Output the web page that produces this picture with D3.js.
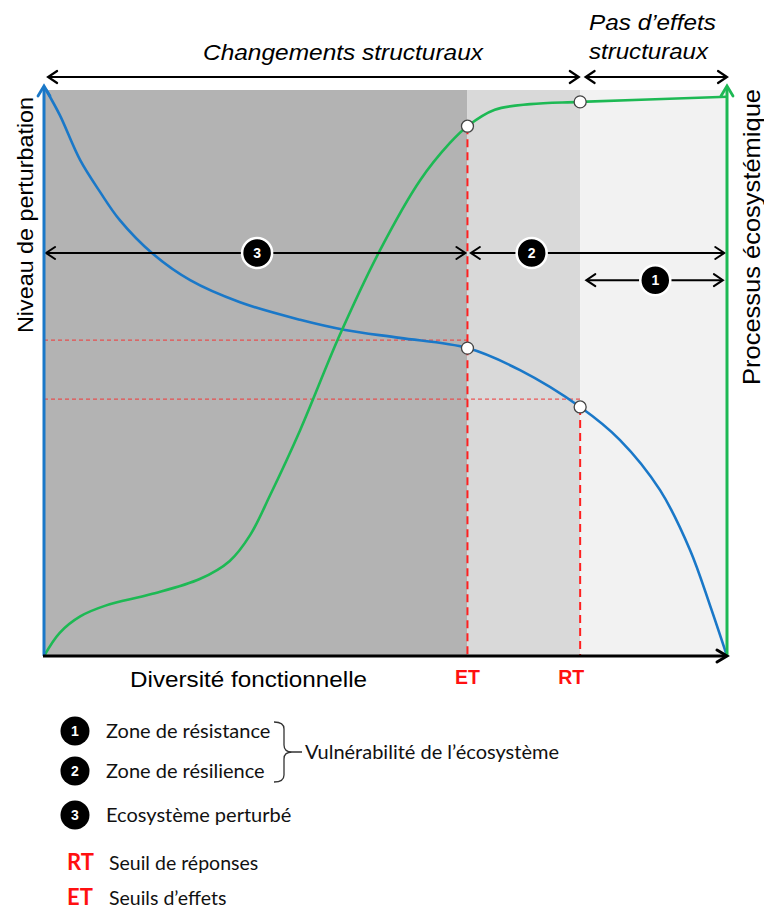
<!DOCTYPE html>
<html><head><meta charset="utf-8">
<script src="https://cdn.jsdelivr.net/npm/d3@7"></script>
<style>
html,body{margin:0;padding:0;background:#fff;}
svg{display:block;}
</style></head>
<body>
<script>
// ---- data ----
const zoneBounds = [0, 62, 78.5, 100];
const zoneColors = ["#b3b3b3", "#d9d9d9", "#f2f2f2"];
const blueX = [0.3, 2.3, 5.3, 8.2, 11.1, 15.8, 21.4, 28.7, 37.5, 44.1, 52.1, 62, 69.7, 78.5, 84.3, 90.2, 94.6, 97.5, 100];
const blueY = [100, 95.6, 87.6, 82.0, 77.0, 71.2, 66.4, 62.5, 59.4, 57.6, 56.2, 54.4, 50.5, 44.0, 38.2, 29.3, 18.7, 9, 0];
const greenX = [0, 2.3, 5.3, 9, 15.6, 22.8, 27.2, 30.2, 33.1, 37.5, 43.3, 49.2, 55.1, 59.4, 62, 66.0, 71.2, 78.5, 100];
const greenY = [0, 4.1, 7.0, 8.9, 10.9, 13.6, 16.8, 21.4, 28.4, 39.9, 56.7, 71.7, 84.1, 90.6, 93.6, 96.5, 97.5, 97.9, 98.8];
const thresholdNames = ["ET", "RT"];
const thresholdX = [62, 78.5];
const thresholdBlue = [54.4, 44.0];
const thresholdGreen = [93.6, 97.9];
const refLineY = [55.8, 45.4];
const zoneArrows = [ // [x0, x1, y, label x, label]
  [0.3, 61.7, 71.2, 31.2, "3"],
  [62.5, 99.6, 71.2, 71.4, "2"],
  [79.4, 99.4, 66.4, 89.5, "1"]
];
const topArrows = [[0.6, 78.3], [79.3, 100]];
const legendNums = ["1", "2", "3"];
const legendTexts = ["Zone de résistance", "Zone de résilience", "Ecosystème perturbé"];
const thresholdLegend = [["RT", "Seuil de réponses"], ["ET", "Seuils d\u2019effets"]];

// ---- layout ----
const W = 764, H = 909;
const x = d3.scaleLinear().domain([0, 100]).range([44, 727]);
const y = d3.scaleLinear().domain([0, 100]).range([656, 90]);

const svg = d3.select("body").append("svg").attr("width", W).attr("height", H);
const ARIAL = "'Liberation Sans', Arial, sans-serif";
const CAL = "Lato, 'Open Sans', sans-serif";

// zones
svg.selectAll("rect.zone").data(zoneColors).enter().append("rect")
  .attr("x", (d, i) => x(zoneBounds[i]))
  .attr("width", (d, i) => x(zoneBounds[i + 1]) - x(zoneBounds[i]))
  .attr("y", y(100)).attr("height", y(0) - y(100))
  .attr("fill", d => d);

// red reference dashed lines (horizontal)
refLineY.forEach((v, i) => {
  svg.append("line").attr("x1", x(0)).attr("x2", x(thresholdX[i]))
    .attr("y1", y(v)).attr("y2", y(v))
    .attr("stroke", "#f04040").attr("stroke-width", 1.2).attr("stroke-dasharray", "4,3").attr("opacity", 0.85);
});
// vertical thresholds
svg.append("line").attr("x1", x(thresholdX[0])).attr("x2", x(thresholdX[0]))
  .attr("y1", y(thresholdGreen[0])).attr("y2", y(0))
  .attr("stroke", "#ff2020").attr("stroke-width", 2).attr("stroke-dasharray", "8,5");
svg.append("line").attr("x1", x(thresholdX[1])).attr("x2", x(thresholdX[1]))
  .attr("y1", y(thresholdBlue[1])).attr("y2", y(0))
  .attr("stroke", "#ff2020").attr("stroke-width", 2).attr("stroke-dasharray", "8,5");

function chevron(g, tx, ty, dir, color, len, half, sw) {
  const c = Math.cos(dir), s = Math.sin(dir);
  const p1 = [tx - len * c - half * s, ty - len * s + half * c];
  const p2 = [tx - len * c + half * s, ty - len * s - half * c];
  g.append("path").attr("d", `M${p1}L${tx},${ty}L${p2}`)
    .attr("fill", "none").attr("stroke", color).attr("stroke-width", sw)
    .attr("stroke-linejoin", "miter").attr("stroke-linecap", "round");
}
function dblArrow(x0, x1, yy, sw) {
  svg.append("line").attr("x1", x0 + 1).attr("x2", x1 - 1).attr("y1", yy).attr("y2", yy)
    .attr("stroke", "#000").attr("stroke-width", sw);
  chevron(svg, x0, yy, Math.PI, "#000", 9, 6, sw);
  chevron(svg, x1, yy, 0, "#000", 9, 6, sw);
}

// curves
const lineGen = d3.line().x(d => x(d[0])).y(d => y(d[1])).curve(d3.curveCatmullRom.alpha(0.5));
svg.append("path").datum(blueX.map((v, i) => [v, blueY[i]])).attr("d", lineGen)
  .attr("fill", "none").attr("stroke", "#1a78c8").attr("stroke-width", 2.6);
svg.append("path").datum(greenX.map((v, i) => [v, greenY[i]])).attr("d", lineGen)
  .attr("fill", "none").attr("stroke", "#1db954").attr("stroke-width", 2.6);

// zone arrows
zoneArrows.forEach(a => dblArrow(x(a[0]), x(a[1]), y(a[2]), 2));
zoneArrows.forEach(a => {
  const g = svg.append("g").attr("transform", `translate(${x(a[3])},${y(a[2])})`);
  g.append("circle").attr("r", 15).attr("fill", "#000").attr("stroke", "#fff").attr("stroke-width", 2.5);
  g.append("text").attr("text-anchor", "middle").attr("dy", "0.36em").attr("fill", "#fff")
    .attr("font-family", ARIAL).attr("font-weight", "bold").attr("font-size", 14).text(a[4]);
});

// top arrows
topArrows.forEach(a => dblArrow(x(a[0]), x(a[1]), 77, 2.2));

// axes
svg.append("line").attr("x1", x(0)).attr("x2", x(0)).attr("y1", y(0)).attr("y2", 87)
  .attr("stroke", "#1a78c8").attr("stroke-width", 3);
chevron(svg, x(0), 86, -Math.PI / 2, "#1a78c8", 10, 6, 2.8);
svg.append("line").attr("x1", x(100)).attr("x2", x(100)).attr("y1", y(0)).attr("y2", 87)
  .attr("stroke", "#1db954").attr("stroke-width", 3);
chevron(svg, x(100), 86, -Math.PI / 2, "#1db954", 10, 6, 2.8);
svg.append("line").attr("x1", x(0) - 1).attr("x2", x(100) - 1).attr("y1", y(0)).attr("y2", y(0))
  .attr("stroke", "#000").attr("stroke-width", 3.2);
chevron(svg, x(100), y(0), 0, "#000", 10, 6, 3);

// threshold circles
thresholdX.forEach((tx, i) => {
  [thresholdBlue[i], thresholdGreen[i]].forEach(v => {
    svg.append("circle").attr("cx", x(tx)).attr("cy", y(v)).attr("r", 6)
      .attr("fill", "#fff").attr("stroke", "#444").attr("stroke-width", 1.3);
  });
});

// texts
function stretched(txt, x0, y0, len, size, style) {
  svg.append("text").attr("x", x0).attr("y", y0)
    .attr("font-family", ARIAL).attr("font-style", style || "normal").attr("font-size", size)
    .attr("textLength", len).attr("lengthAdjust", "spacingAndGlyphs").text(txt);
}
stretched("Changements structuraux", 203, 60, 280, 22, "italic");
stretched("Pas d\u2019effets", 589, 30, 127, 22, "italic");
stretched("structuraux", 589, 59, 119, 22, "italic");
stretched("Diversité fonctionnelle", 130, 687, 237, 22);

svg.append("text").attr("transform", "translate(33,215) rotate(-90)").attr("text-anchor", "middle")
  .attr("font-family", ARIAL).attr("font-size", 22).attr("textLength", 236).attr("lengthAdjust", "spacingAndGlyphs")
  .text("Niveau de perturbation");
svg.append("text").attr("transform", "translate(760,237) rotate(-90)").attr("text-anchor", "middle")
  .attr("font-family", ARIAL).attr("font-size", 24).attr("textLength", 296).attr("lengthAdjust", "spacingAndGlyphs")
  .text("Processus écosystémique");

thresholdNames.forEach((n, i) => {
  svg.append("text").attr("x", x(thresholdX[i]) - (i ? 9 : 0)).attr("y", 684).attr("text-anchor", "middle")
    .attr("font-family", ARIAL).attr("font-weight", "bold").attr("font-size", 19.5).attr("fill", "#ff1010").text(n);
});

// legend
const legY = [731, 771, 815];
legendNums.forEach((n, i) => {
  svg.append("circle").attr("cx", 75).attr("cy", legY[i]).attr("r", 14.5).attr("fill", "#000");
  svg.append("text").attr("x", 75).attr("y", legY[i]).attr("dy", "0.36em").attr("text-anchor", "middle")
    .attr("fill", "#fff").attr("font-family", ARIAL).attr("font-weight", "bold").attr("font-size", 14).text(n);
  svg.append("text").attr("x", 106).attr("y", legY[i] + 7).attr("font-family", CAL).attr("font-size", 20)
    .attr("fill", "#111").text(legendTexts[i]);
});
svg.append("path")
  .attr("d", "M274,722 Q284,722 284,729 L284,745 Q284,752 292,752 L302,752 M292,752 Q284,752 284,759 L284,775 Q284,782 274,782")
  .attr("fill", "none").attr("stroke", "#333").attr("stroke-width", 1.3);
svg.append("text").attr("x", 305).attr("y", 759).attr("font-family", CAL).attr("font-size", 20)
  .attr("fill", "#111").text("Vulnérabilité de l\u2019écosystème");

const tlY = [870, 905];
thresholdLegend.forEach((t, i) => {
  svg.append("text").attr("x", 67).attr("y", tlY[i]).attr("font-family", CAL).attr("font-weight", "bold")
    .attr("font-size", 22).attr("fill", "#ff1010").text(t[0]);
  svg.append("text").attr("x", 109).attr("y", tlY[i]).attr("font-family", CAL).attr("font-size", 19.5)
    .attr("fill", "#111").text(t[1]);
});
</script>
</body></html>
